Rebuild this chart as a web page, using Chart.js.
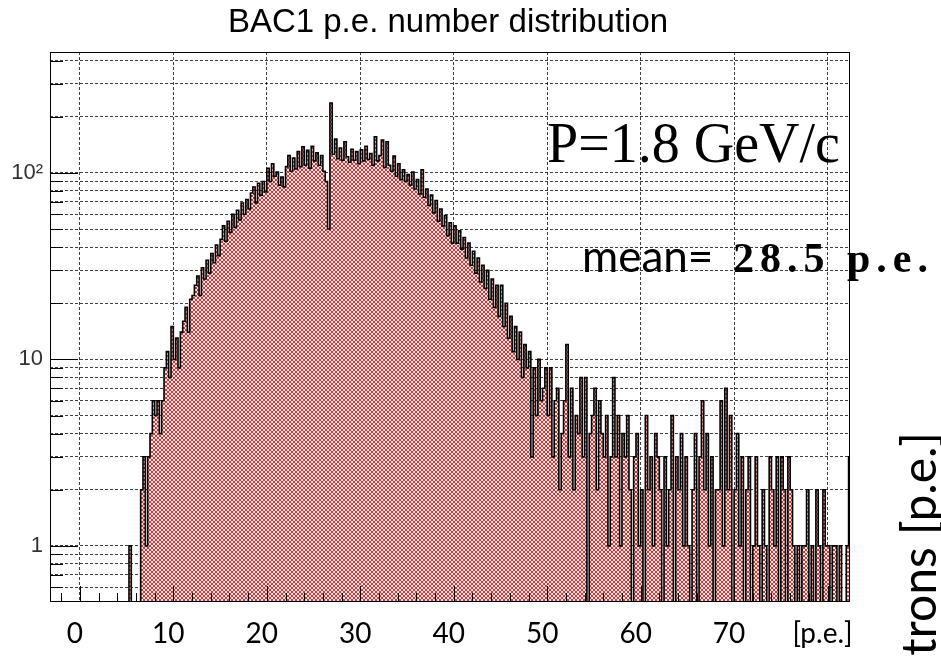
<!DOCTYPE html>
<html>
<head>
<meta charset="utf-8">
<script src="https://cdn.jsdelivr.net/npm/chart.js@4.4.0/dist/chart.umd.min.js"></script>
<style>
  html, body { margin: 0; padding: 0; background: #fff; }
</style>
</head>
<body>
<canvas id="hist" width="941" height="658"></canvas>
<script>
// -----------------------------------------------------------
// DATA — p.e. histogram, 0.25 p.e. bins starting at 5.0
// -----------------------------------------------------------

const BIN_START = 5.0;
const BIN_WIDTH = 0.25;

const COUNTS_05 = [0,1,0,0,0,0,2,3,1,3,4,6,5,6,4,6,9,11,8,15];
const COUNTS_10 = [10,13,9,14,16,19,14,21,22,25,28,22,31,27,34,29,37,33,41,36];
const COUNTS_15 = [44,52,43,55,48,60,51,63,56,69,60,72,64,78,84,69,88,76,90,79];
const COUNTS_20 = [106,90,112,96,101,86,95,84,108,124,102,120,105,130,108,138,110,132,106,139];
const COUNTS_25 = [116,128,110,124,102,90,50,237,126,152,119,136,117,147,122,114,134,117,130,112];
const COUNTS_30 = [133,116,139,118,127,110,156,116,124,150,107,147,110,102,123,96,112,92,104,90];
const COUNTS_35 = [98,86,101,82,92,77,104,74,82,67,76,61,71,55,64,52,59,46,54,42];
const COUNTS_40 = [52,42,49,39,45,35,42,32,38,29,35,26,32,24,30,21,27,19,25,17];
const COUNTS_45 = [25,15,20,13,17,11,15,10,14,8,12,9,11,3,9,5,10,6,7,9];
const COUNTS_50 = [5,9,3,6,7,2,4,6,12,3,7,2,5,4,8,3,8,0,4,5];
const COUNTS_55 = [7,2,6,4,3,5,1,3,8,3,5,1,4,3,5,2,0,3,4,1];
const COUNTS_60 = [2,0,5,2,3,1,4,3,2,0,3,1,2,5,0,3,2,4,1,3];
const COUNTS_65 = [1,0,2,4,0,3,6,2,4,1,3,0,2,2,6,1,7,2,5,0];
const COUNTS_70 = [2,4,1,3,0,2,3,0,1,3,1,0,2,1,0,3,2,1,3,0];
const COUNTS_75 = [3,2,0,3,2,1,0,1,0,1,1,2,0,1,0,2,1,0,2,1];
const COUNTS_80 = [1,0,1,1,0,1,0,0,1,3];

const X_TICKS = [0, 10, 20, 30, 40, 50, 60, 70, 80];
const X_LABELS = ["0", "10", "20", "30", "40", "50", "60", "70", "[p.e.]"];
const X_TICK_MARKS = [-2,0,2,4,6,8,10,12,14,16,18,20,22,24,26,28,30,32,34,36,38,40,
  42,44,46,48,50,52,54,56,58,60,62,64,66,68,70,72,74,76,78,80,82];

const Y_GRID = [0.6,0.7,0.8,0.9,1,2,3,4,5,6,7,8,9,10,20,30,40,50,60,70,80,90,100,200,300,400];
const Y_LABEL_VALUES = [1, 10, 100];
const Y_LABEL_TEXT = ["1", "10", "10\u00b2"];

const TITLE = "BAC1 p.e. number distribution";

// -----------------------------------------------------------
// BUILD
// -----------------------------------------------------------

const X_MIN = -3.2, X_MAX = 82.4;
const Y_MIN = 0.5, Y_MAX = 445;

const counts = [].concat(COUNTS_05, COUNTS_10, COUNTS_15, COUNTS_20, COUNTS_25,
  COUNTS_30, COUNTS_35, COUNTS_40, COUNTS_45, COUNTS_50, COUNTS_55, COUNTS_60,
  COUNTS_65, COUNTS_70, COUNTS_75, COUNTS_80);

// empty bins drop to the bottom of the log axis, like ROOT does
const points = counts.map((c, i) => ({ x: BIN_START + i * BIN_WIDTH, y: c > 0 ? c : Y_MIN }));
points.push({ x: BIN_START + counts.length * BIN_WIDTH, y: Y_MIN });

// red cross-hatch, a bit like the ROOT fill style
function hatch() {
  const t = document.createElement("canvas");
  t.width = 4; t.height = 4;
  const c = t.getContext("2d");
  c.fillStyle = "rgb(246,222,222)";
  c.fillRect(0, 0, 4, 4);
  c.fillStyle = "rgb(196,62,62)";
  [[0,0],[1,1],[2,2],[3,3],[3,0],[2,1],[1,2],[0,3]].forEach(p => c.fillRect(p[0], p[1], 1, 1));
  return c.createPattern(t, "repeat");
}

const GRID_COLOR = "rgba(0,0,0,0.75)";

// title, frame, inward tick marks and the pasted-on labels
const overlay = {
  id: "overlay",
  afterDraw(chart) {
    const { ctx, chartArea: a, scales: { x, y } } = chart;
    ctx.save();
    ctx.strokeStyle = "#000";
    ctx.lineWidth = 1;
    ctx.beginPath();
    Y_GRID.forEach(v => {
      const py = Math.round(y.getPixelForValue(v)) + 0.5;
      const len = Y_LABEL_VALUES.includes(v) ? 28 : 13;
      ctx.moveTo(a.left, py);
      ctx.lineTo(a.left + len, py);
    });
    X_TICK_MARKS.forEach(v => {
      const px = Math.round(x.getPixelForValue(v)) + 0.5;
      const len = v % 10 === 0 ? 16 : 9;
      ctx.moveTo(px, a.bottom);
      ctx.lineTo(px, a.bottom - len);
    });
    ctx.stroke();
    ctx.strokeRect(a.left + 0.5, a.top + 0.5, a.right - a.left - 1, a.bottom - a.top - 1);

    ctx.fillStyle = "#000";
    ctx.textAlign = "center";
    ctx.textBaseline = "middle";
    ctx.font = "33px 'Liberation Sans'";
    ctx.fillText(TITLE, 448, 23);

    ctx.textBaseline = "alphabetic";
    ctx.textAlign = "left";
    ctx.font = "56px 'Liberation Serif'";
    ctx.fillText("P=1.8 GeV/c", 547, 162);

    ctx.font = "44px Lato";
    ctx.fillText("mean=", 582, 272);
    ctx.font = "bold 42px 'Liberation Serif'";
    ctx.letterSpacing = "6px";
    ctx.fillText("28.5 p.e.", 733, 272);
    ctx.letterSpacing = "0px";

    ctx.translate(921, 432);
    ctx.rotate(-Math.PI / 2);
    ctx.textAlign = "right";
    ctx.textBaseline = "middle";
    ctx.font = "48px Lato";
    ctx.fillText("trons [p.e.]", 0, 0);
    ctx.restore();
  }
};

new Chart(document.getElementById("hist"), {
  type: "line",
  data: {
    datasets: [{
      data: points,
      stepped: true,
      borderColor: "#000",
      borderWidth: 1.6,
      backgroundColor: hatch(),
      fill: "start",
      pointRadius: 0,
      tension: 0
    }]
  },
  options: {
    responsive: false,
    animation: false,
    layout: { padding: { left: 0, right: 91, top: 52, bottom: 0 } },
    plugins: {
      legend: { display: false },
      tooltip: { enabled: false },
      title: { display: false }
    },
    scales: {
      x: {
        type: "linear",
        min: X_MIN,
        max: X_MAX,
        afterBuildTicks: s => { s.ticks = X_TICKS.map(v => ({ value: v })); },
        afterFit: s => { s.height = 56; },
        ticks: {
          autoSkip: false,
          maxRotation: 0,
          padding: 15,
          labelOffset: -5,
          color: "#000",
          font: { family: "Lato", size: 28 },
          callback: (v, i) => X_LABELS[i]
        },
        grid: { color: GRID_COLOR, lineWidth: 1, drawTicks: false },
        border: { display: false, dash: [3, 2] }
      },
      y: {
        type: "logarithmic",
        min: Y_MIN,
        max: Y_MAX,
        afterBuildTicks: s => { s.ticks = Y_GRID.map(v => ({ value: v })); },
        afterFit: s => { s.width = 50; },
        ticks: {
          autoSkip: false,
          padding: 7,
          color: "#333",
          font: { family: "'Liberation Sans'", size: 22 },
          callback: v => {
            const k = Y_LABEL_VALUES.indexOf(v);
            return k >= 0 ? Y_LABEL_TEXT[k] : "";
          }
        },
        grid: { color: GRID_COLOR, lineWidth: 1, drawTicks: false },
        border: { display: false, dash: [3, 2] }
      }
    }
  },
  plugins: [overlay]
});
</script>
</body>
</html>
